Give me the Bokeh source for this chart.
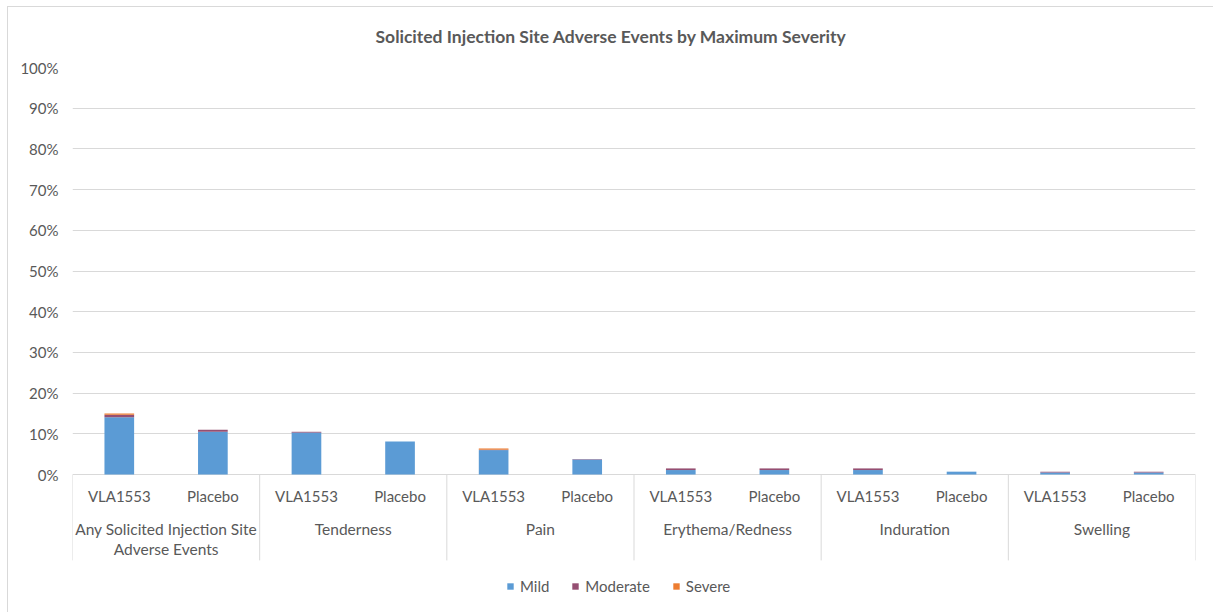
from bokeh.plotting import figure
from bokeh.models import (FactorRange, Range1d, FixedTicker, PrintfTickFormatter,
                          ColumnDataSource, Legend, LegendItem, InlineStyleSheet)
from bokeh.core.properties import value
from bokeh.embed import file_html
from bokeh.resources import INLINE

groups = ["Any Solicited Injection Site\nAdverse Events", "Tenderness", "Pain",
          "Erythema/Redness", "Induration", "Swelling"]
subs = ["VLA1553", "Placebo"]
severities = ["Mild", "Moderate", "Severe"]
colors = ["#5B9BD5", "#954F72", "#ED7D31"]

mild =     [14.1, 10.5, 10.3, 8.1, 6.0, 3.7, 1.1, 1.1, 1.1, 0.7, 0.5, 0.5]
moderate = [0.6,  0.5,  0.2,  0.0, 0.1, 0.1, 0.4, 0.4, 0.4, 0.0, 0.2, 0.2]
severe =   [0.3,  0.0,  0.0,  0.0, 0.3, 0.0, 0.0, 0.0, 0.0, 0.0, 0.0, 0.0]
y_ticks = [0, 10, 20, 30, 40, 50, 60, 70, 80, 90, 100]
title_text = "Solicited Injection Site Adverse Events by Maximum Severity"

FONT = "Lato"
GRAY = "#595959"
GRID = "#D9D9D9"

factors = [(g, s) for g in groups for s in subs]
src = ColumnDataSource(dict(x=factors, Mild=mild, Moderate=moderate, Severe=severe))

p = figure(width=1213, height=612, output_backend="svg", toolbar_location=None,
           x_range=FactorRange(factors=factors, group_padding=0, factor_padding=0,
                               range_padding=0),
           y_range=Range1d(-33.9, 100),
           min_border_left=72, min_border_right=18, min_border_top=67,
           min_border_bottom=0)
p.outline_line_color = None
p.background_fill_color = "white"
p.border_fill_color = "white"

p.title.text = title_text
p.title.align = "left"
p.title.text_font = FONT
p.title.text_font_size = "17.5px"
p.title.text_font_style = "bold"
p.title.text_color = GRAY
p.title.offset = 303
p.title.standoff = 42

renderers = p.vbar_stack(severities, x="x", width=0.317, color=colors, source=src,
                         line_color=None)

p.xaxis.visible = False
p.xgrid.visible = False
p.ygrid.ticker = FixedTicker(ticks=y_ticks)
p.ygrid.grid_line_color = GRID
p.ygrid.grid_line_width = 1

ya = p.yaxis[0]
ya.ticker = FixedTicker(ticks=y_ticks)
ya.formatter = PrintfTickFormatter(format="%d%%")
ya.axis_line_color = None
ya.major_tick_line_color = None
ya.minor_tick_line_color = None
ya.major_tick_out = 0
ya.major_tick_in = 0
ya.major_label_standoff = 14
ya.major_label_text_font = FONT
ya.major_label_text_font_size = "15px"
ya.major_label_text_color = GRAY

# category labels
p.text(x=factors, y=[0] * len(factors), text=[s for g in groups for s in subs],
       y_offset=21, text_align="center", text_baseline="middle",
       text_font=value(FONT), text_font_size="15px", text_color=GRAY)
p.text(x=groups, y=[0] * len(groups), text=groups,
       y_offset=45, text_align="center", text_baseline="top",
       text_font=value(FONT), text_font_size="15.5px", text_color=GRAY,
       text_line_height=1.15)

# group separators
sep_x = [i * len(subs) for i in range(len(groups) + 1)]
p.segment(x0=sep_x, y0=[0] * len(sep_x), x1=sep_x, y1=[-21.1] * len(sep_x),
          line_color=GRID, line_width=1)

legend = Legend(items=[LegendItem(label=s, renderers=[r]) for s, r in zip(severities, renderers)],
                orientation="horizontal", location=(434, 17),
                glyph_width=8, glyph_height=8, label_standoff=6, spacing=22,
                label_text_font=FONT, label_text_font_size="15px",
                label_text_color=GRAY, border_line_color=None,
                background_fill_alpha=0, margin=0, padding=10)
p.add_layout(legend)

# chart-area border (Excel style), drawn as a CSS overlay of the figure element
p.stylesheets = [InlineStyleSheet(css="""
:host { position: relative; }
:host::after {
  content: ""; position: absolute; left: 7px; top: 6px; width: 1230px; height: 640px;
  border: 1.5px solid #D9D9D9; box-sizing: border-box; pointer-events: none; z-index: 100;
}
""")]

open("out.html", "w").write(file_html(p, INLINE))
